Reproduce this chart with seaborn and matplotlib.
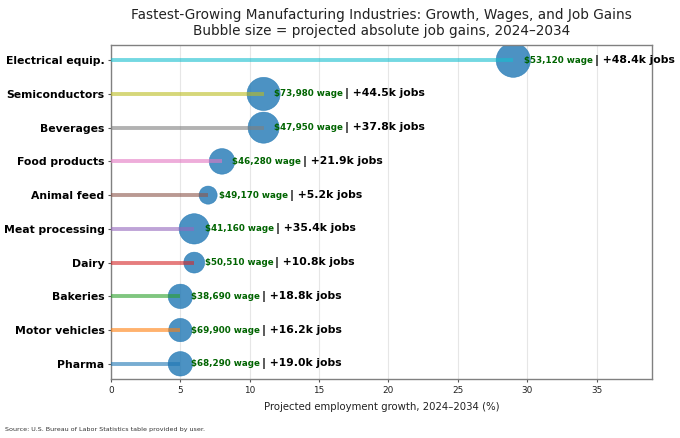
import matplotlib
matplotlib.use("Agg")
import matplotlib.pyplot as plt
import seaborn as sns
import pandas as pd
import numpy as np

industries = ["Pharma", "Motor vehicles", "Bakeries", "Dairy", "Meat processing",
              "Animal feed", "Food products", "Beverages", "Semiconductors",
              "Electrical equip."]
growth_pct = [5, 5, 5, 6, 6, 7, 8, 11, 11, 29]
median_wage = [68290, 69900, 38690, 50510, 41160, 49170, 46280, 47950, 73980, 53120]
job_gains_k = [19.0, 16.2, 18.8, 10.8, 35.4, 5.2, 21.9, 37.8, 44.5, 48.4]

df = pd.DataFrame({
    "industry": industries,
    "growth": growth_pct,
    "wage": median_wage,
    "jobs": job_gains_k,
})
df["pos"] = np.arange(len(df))

sns.set_style("whitegrid")
plt.rcParams["font.family"] = ["DejaVu Sans"]

fig = plt.figure(figsize=(6.8, 4.38), dpi=100)
ax = fig.add_axes([111 / 680, 1 - 379 / 438, (652 - 111) / 680, (379 - 45) / 438])

palette = sns.color_palette("tab10", len(df))
ax.hlines(df["pos"], 0, df["growth"], colors=palette, linewidth=2.8, alpha=0.6, zorder=3)

sns.scatterplot(data=df, x="growth", y="pos", size="jobs", sizes=(170, 610),
                color="#1f77b4", alpha=0.8, edgecolor="#1f77b4", linewidth=0.4,
                legend=False, ax=ax, zorder=2)

for _, r in df.iterrows():
    t = ax.text(r["growth"] + 0.75, r["pos"], f"${r['wage']:,} wage",
                color="darkgreen", fontsize=6.3, fontweight="bold",
                va="center", ha="left", zorder=4)
    ax.annotate(f"| +{r['jobs']:.1f}k jobs", xy=(1, 0.5), xycoords=t,
                xytext=(1.5, 0), textcoords="offset points",
                va="center", ha="left", fontsize=7.8, fontweight="bold",
                color="black", zorder=4)

ax.set_xlim(0, 39)
ax.set_ylim(-0.45, len(df) - 1 + 0.45)
ax.set_yticks(df["pos"])
ax.set_yticklabels(df["industry"], fontsize=7.8, fontweight="bold", color="black")
ax.set_xticks([0, 5, 10, 15, 20, 25, 30, 35])
ax.tick_params(axis="x", labelsize=6.4, length=2.5, width=0.8, pad=2.5,
               color="#555555", labelcolor="#222222", bottom=True)
ax.tick_params(axis="y", length=2.2, width=0.8, pad=2.5, color="#555555", left=True)

ax.grid(axis="y", visible=False)
ax.grid(axis="x", color="#e6e6e6", linewidth=0.8)
for s in ax.spines.values():
    s.set_color("#808080")
    s.set_linewidth(1.0)

ax.set_xlabel("Projected employment growth, 2024\u20132034 (%)", fontsize=7.3,
              color="#222222", labelpad=5)
ax.set_ylabel("")
ax.set_title("Fastest-Growing Manufacturing Industries: Growth, Wages, and Job Gains\n"
             "Bubble size = projected absolute job gains, 2024\u20132034",
             fontsize=9.8, color="#222222", pad=7)

fig.text(5 / 680, 1 - 429 / 438,
         "Source: U.S. Bureau of Labor Statistics table provided by user.",
         fontsize=4.6, color="#333333", va="center", ha="left")

fig.savefig("out.png", dpi=100)
